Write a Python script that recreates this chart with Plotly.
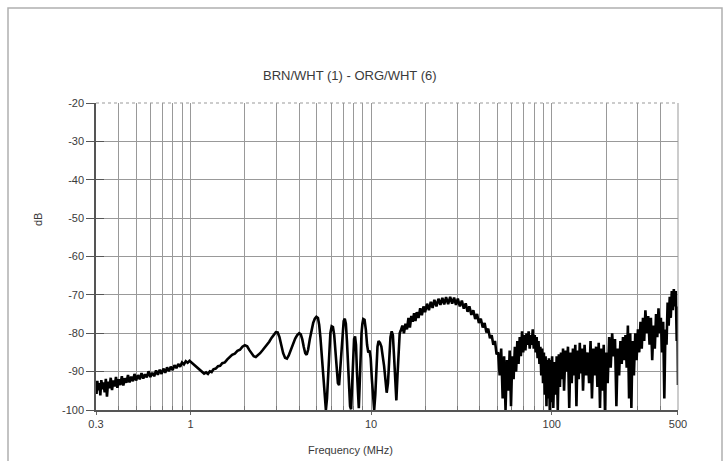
import plotly.graph_objects as go

title_text = "BRN/WHT (1) - ORG/WHT (6)"
x_label = "Frequency (MHz)"
y_label = "dB"

x_tick_vals = [0.3, 1, 10, 100, 500]
x_tick_text = ["0.3", "1", "10", "100", "500"]
x_grid_vals = [0.4, 0.5, 0.6, 0.7, 0.8, 0.9, 2, 3, 4, 5, 6, 7, 8, 9,
               20, 30, 40, 50, 60, 70, 80, 90, 200, 300, 400]
y_tick_vals = [-20, -30, -40, -50, -60, -70, -80, -90, -100]

freq_mhz = [
    0.300, 0.302, 0.305, 0.309, 0.313, 0.317, 0.321, 0.326, 0.330, 0.335,
    0.340, 0.345, 0.350, 0.356, 0.362, 0.368, 0.374, 0.380, 0.387, 0.394,
    0.401, 0.409, 0.417, 0.425, 0.433, 0.442, 0.451, 0.460, 0.470, 0.480,
    0.490, 0.500, 0.512, 0.524, 0.536, 0.548, 0.560, 0.573, 0.586, 0.600,
    0.615, 0.630, 0.645, 0.660, 0.676, 0.692, 0.708, 0.725, 0.742, 0.760,
    0.778, 0.797, 0.816, 0.836, 0.856, 0.877, 0.898, 0.920, 0.942, 0.965,
    0.988, 1.01, 1.04, 1.07, 1.10, 1.13, 1.16, 1.19, 1.22, 1.25,
    1.28, 1.31, 1.34, 1.38, 1.42, 1.46, 1.50, 1.55, 1.60, 1.65,
    1.70, 1.76, 1.82, 1.88, 1.94, 2.00, 2.06, 2.12, 2.18, 2.24,
    2.30, 2.36, 2.43, 2.50, 2.57, 2.65, 2.73, 2.81, 2.89, 2.97,
    3.04, 3.11, 3.18, 3.26, 3.34, 3.42, 3.50, 3.60, 3.70, 3.80,
    3.90, 4.00, 4.08, 4.16, 4.24, 4.32, 4.40, 4.48, 4.58, 4.68,
    4.78, 4.88, 4.98, 5.08, 5.16, 5.24, 5.32, 5.40, 5.48, 5.56,
    5.62, 5.70, 5.78, 5.86, 5.95, 6.05, 6.15, 6.25, 6.35, 6.45,
    6.55, 6.65, 6.75, 6.85, 6.95, 7.05, 7.15, 7.25, 7.35, 7.45,
    7.55, 7.65, 7.75, 7.85, 7.95, 8.05, 8.15, 8.25, 8.35, 8.45,
    8.55, 8.65, 8.75, 8.85, 8.95, 9.05, 9.20, 9.35, 9.50, 9.65,
    9.80, 9.95, 10.1, 10.25, 10.4, 10.55, 10.7, 10.85, 11.0, 11.2,
    11.4, 11.6, 11.8, 12.0, 12.2, 12.4, 12.6, 12.8, 13.0, 13.2,
    13.4, 13.6, 13.8, 14.0, 14.2, 14.4, 14.6, 14.9, 15.2, 15.5,
    15.8, 16.1, 16.4, 16.7, 17.0, 17.3, 17.6, 17.9, 18.3, 18.7,
    19.1, 19.5, 19.9, 20.4, 20.9, 21.4, 21.9, 22.4, 23.0, 23.6,
    24.2, 24.8, 25.4, 26.0, 26.7, 27.4, 28.1, 28.8, 29.5, 30.2,
    31.0, 31.8, 32.6, 33.4, 34.2, 35.0, 35.9, 36.8, 37.7, 38.6,
    39.5, 40.5, 41.5, 42.5, 43.5, 44.5, 45.5, 46.5, 47.5, 48.5,
    49.5, 50.5, 51.5, 52.5, 53.5, 54.5, 55.5, 56.5, 57.5, 58.5,
    59.5, 60.5, 61.5, 62.5, 63.5, 64.5, 65.5, 66.5, 67.5, 68.5,
    69.5, 70.5, 71.5, 72.5, 73.5, 74.5, 75.5, 76.5, 77.5, 78.5,
    79.5, 80.5, 81.5, 82.5, 83.5, 84.5, 85.5, 86.5, 87.5, 88.5,
    89.5, 90.5, 91.5, 92.5, 93.5, 94.5, 95.5, 96.5, 97.5, 98.5,
    99.5, 100.5, 102, 103.5, 105, 106.5, 108, 109.5, 111, 112.5,
    114, 115.5, 117, 119, 121, 123, 125, 127, 129, 131,
    133, 135, 137, 139, 141, 143, 145, 147, 149, 152,
    155, 158, 161, 164, 167, 170, 173, 176, 179, 182,
    185, 188, 191, 194, 197, 200, 204, 208, 212, 216,
    220, 224, 228, 232, 236, 240, 244, 248, 252, 256,
    260, 264, 268, 272, 276, 280, 285, 290, 295, 300,
    305, 310, 315, 320, 325, 330, 336, 342, 348, 354,
    360, 366, 372, 378, 384, 390, 396, 402, 408, 414,
    420, 426, 432, 438, 444, 450, 456, 462, 468, 474,
    480, 486, 492, 496, 500,
]

level_db = [
    -93.5, -95.8, -92.4, -94.9, -93.0, -96.2, -92.2, -94.6, -92.8, -95.4,
    -91.9, -96.5, -92.6, -94.3, -91.6, -94.8, -92.3, -93.9, -91.4, -94.2,
    -92.0, -93.5, -91.2, -93.6, -91.7, -92.9, -90.9, -92.8, -91.3, -92.5,
    -90.6, -92.3, -90.9, -92.0, -90.4, -91.8, -90.7, -91.5, -89.9, -91.4,
    -90.3, -91.2, -89.7, -90.8, -89.5, -90.6, -89.2, -90.3, -88.9, -89.9,
    -88.7, -89.6, -88.3, -89.1, -88.0, -88.7, -87.6, -88.1, -87.3, -87.7,
    -87.2, -87.6, -88.0, -88.6, -89.0, -89.6, -90.1, -90.5, -90.2, -90.6,
    -89.9, -90.1, -89.4, -89.2, -88.6, -88.5, -87.8, -87.6, -86.8, -86.3,
    -85.6, -85.3, -84.6, -84.3, -83.5, -83.1, -83.4, -84.4, -85.4, -86.0,
    -86.2, -85.8, -85.2, -84.5, -83.8, -83.2, -82.2, -81.2, -80.3, -79.7,
    -79.8, -81.0, -83.0, -85.2, -86.4, -86.6, -85.8, -84.2, -82.6, -81.4,
    -80.5, -80.0, -80.3, -81.6, -83.6, -85.2, -85.6, -84.3, -81.5, -79.0,
    -77.3, -76.2, -75.7, -76.0, -77.8, -81.0, -85.5, -90.0, -95.0, -99.5,
    -100.0, -97.0, -90.0, -84.0, -80.0, -78.2, -78.4, -80.5, -84.5, -89.0,
    -93.0, -93.5, -89.0, -83.0, -79.0, -76.8, -76.2, -77.5, -82.0, -88.0,
    -94.0, -99.0, -99.8, -94.0, -86.0, -81.5, -80.8, -83.0, -90.0, -97.0,
    -99.5, -93.0, -85.0, -80.0, -77.5, -76.3, -76.5, -79.0, -83.0, -85.0,
    -84.5, -86.5, -92.0, -97.0, -100.0, -96.0, -88.0, -83.5, -82.0, -82.5,
    -83.5, -85.5, -88.5, -92.0, -95.5, -93.0, -86.0, -81.0, -79.5, -80.5,
    -86.0, -94.0, -97.5, -91.0, -83.5, -80.0, -79.3, -78.0, -80.0, -77.5,
    -79.0, -76.0, -78.5, -75.5, -77.0, -74.8, -76.8, -74.5, -76.0, -73.5,
    -75.3, -73.0, -74.5, -72.3, -74.0, -71.8, -73.4, -71.3, -73.0, -71.0,
    -72.6, -70.8, -72.5, -70.6, -72.4, -70.5, -72.3, -70.7, -72.6, -71.0,
    -73.0, -71.5, -73.6, -72.2, -74.4, -73.0, -75.2, -74.0, -76.3, -75.0,
    -77.3, -76.2, -78.5, -77.3, -79.8, -78.8, -81.3, -80.5, -83.0, -82.0,
    -85.5, -85.0, -91.0, -84.0, -97.0, -86.0, -100.0, -87.0, -95.0, -84.5,
    -99.0, -86.0, -92.0, -83.5, -90.0, -82.0, -88.0, -81.0, -86.0, -79.5,
    -85.0, -80.5, -84.5, -80.0, -83.0, -79.5, -84.0, -80.5, -83.0, -79.0,
    -84.0, -80.5, -85.0, -81.0, -86.5, -82.0, -88.0, -83.5, -91.0, -84.0,
    -93.0, -85.0, -96.0, -86.0, -99.0, -87.0, -97.0, -86.5, -100.0, -87.0,
    -98.0, -86.0, -99.5, -87.5, -96.0, -86.0, -100.0, -85.5, -94.0, -85.0,
    -92.0, -84.0, -95.0, -84.5, -90.0, -83.5, -99.5, -85.0, -93.0, -84.0,
    -91.0, -83.0, -99.0, -84.5, -92.0, -82.5, -90.5, -84.0, -95.0, -83.0,
    -91.0, -85.0, -93.0, -82.0, -97.0, -84.0, -91.0, -83.5, -94.0, -82.5,
    -99.5, -84.0, -95.0, -83.0, -100.0, -85.0, -93.0, -81.0, -89.0, -80.0,
    -86.0, -81.5, -99.0, -84.0, -91.0, -82.0, -88.0, -81.0, -87.0, -80.5,
    -89.0, -78.0, -97.0, -80.0, -99.5, -82.0, -91.0, -80.0, -87.0, -79.0,
    -85.0, -77.0, -84.0, -76.0, -82.0, -74.0, -80.0, -75.5, -83.0, -76.0,
    -87.0, -78.0, -84.0, -75.0, -81.0, -73.5, -80.0, -76.0, -85.0, -77.0,
    -97.0, -79.0, -83.0, -72.0, -78.0, -70.5, -76.0, -69.0, -74.0, -68.5,
    -73.0, -69.0, -82.0, -73.0, -93.5,
]

# pixel-based layout helpers (plot area 96..678 x 103..410 in a 727x461 page)
L, R, T, B = 96, 678, 103, 410
W, H = R - L, B - T
def px(xp):
    return (xp - L) / W
def py(yp):
    return (B - yp) / H

text_col = "#3a3a3a"
grid_col = "#999999"
font_family = "Liberation Sans, Arial, sans-serif"

fig = go.Figure()
fig.add_trace(go.Scatter(
    x=freq_mhz, y=level_db, mode="lines",
    line=dict(color="#000000", width=2.6),
    showlegend=False, hoverinfo="skip",
))
# invisible trace to carry the inside-tick overlay axis
fig.add_trace(go.Scatter(
    x=[freq_mhz[0]], y=[level_db[0]], yaxis="y2", mode="lines",
    line=dict(width=0), showlegend=False, hoverinfo="skip",
))

fig.update_layout(
    width=727, height=461,
    margin=dict(l=L, r=727 - R, t=T, b=461 - B, pad=0),
    paper_bgcolor="white", plot_bgcolor="white",
    font=dict(family=font_family, color=text_col, size=11),
    xaxis=dict(
        type="log", range=[-0.5229, 2.699],
        tickvals=x_tick_vals, ticktext=x_tick_text,
        ticks="outside", ticklen=3, tickcolor="#666",
        showgrid=True, gridcolor=grid_col, gridwidth=1,
        showline=True, linecolor="#555", linewidth=1.5,
        mirror=False, zeroline=False,
        tickfont=dict(size=11, color=text_col),
        minor=dict(tickvals=x_grid_vals, showgrid=True, gridcolor=grid_col,
                   gridwidth=1, ticks="inside", ticklen=4, tickcolor="#777"),
    ),
    yaxis=dict(
        range=[-100, -20], tickvals=y_tick_vals,
        ticktext=[str(v) for v in y_tick_vals],
        ticks="outside", ticklen=8, tickcolor="#555",
        showgrid=True, gridcolor=grid_col, gridwidth=1.2,
        showline=True, linecolor="#555", linewidth=1.5,
        zeroline=False, tickfont=dict(size=11, color=text_col),
    ),
    yaxis2=dict(
        overlaying="y", matches="y", side="left",
        tickvals=y_tick_vals, ticks="inside", ticklen=8, tickcolor="#555",
        showticklabels=False, showgrid=False, showline=False, zeroline=False,
    ),
)

# right and top borders of the plot box
fig.add_shape(type="line", xref="paper", yref="paper", x0=1, x1=1, y0=0, y1=1,
              line=dict(color=grid_col, width=1))
fig.add_shape(type="line", xref="paper", yref="paper", x0=0, x1=1, y0=1, y1=1,
              line=dict(color=grid_col, width=1, dash="dot"))
# outer frame of the figure
fig.add_shape(type="rect", xref="paper", yref="paper",
              x0=px(8), x1=px(722), y0=py(470), y1=py(8),
              line=dict(color="#b0b0b0", width=1.5), layer="below")

fig.add_annotation(text=title_text, xref="paper", yref="paper",
                   x=px(350), y=py(76), showarrow=False,
                   font=dict(size=13, color=text_col), xanchor="center", yanchor="middle")
fig.add_annotation(text=x_label, xref="paper", yref="paper",
                   x=px(350), y=py(450), showarrow=False,
                   font=dict(size=11, color=text_col), xanchor="center", yanchor="middle")
fig.add_annotation(text=y_label, xref="paper", yref="paper",
                   x=px(38), y=py(219), showarrow=False, textangle=-90,
                   font=dict(size=11, color=text_col), xanchor="center", yanchor="middle")

fig.write_html("out.html")
